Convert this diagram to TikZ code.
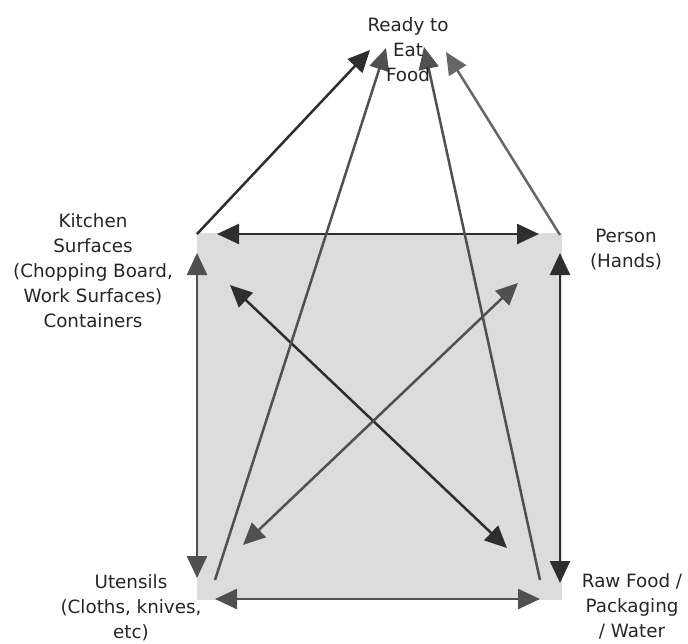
\documentclass[tikz,border=0pt]{standalone}
\usepackage{fontspec}
\setmainfont{DejaVu Sans}
\usetikzlibrary{arrows.meta}
\definecolor{txt}{HTML}{262626}
\definecolor{sq}{HTML}{DCDCDC}
\definecolor{dk}{HTML}{2E2E2E}
\definecolor{md}{HTML}{505050}
\definecolor{lt}{HTML}{666666}
\begin{document}
\begin{tikzpicture}[x=1pt,y=-1pt,
  lbl/.style={align=center, font=\fontsize{18.3}{25}\selectfont, text=txt, inner sep=0pt},
  tip/.style={-{Triangle[length=22pt,width=20pt]}},
  dtip/.style={{Triangle[length=22pt,width=20pt]}-{Triangle[length=22pt,width=20pt]}},
  con/.style={line width=2.5pt}
]
\useasboundingbox (0,0) rectangle (688,643);
\fill[white] (0,0) rectangle (688,643);
% grey square
\fill[sq] (197,233) rectangle (562,600);

% coordinates
\coordinate (tl) at (217,234);
\coordinate (tr) at (539,234);
\coordinate (bl) at (215,599);
\coordinate (br) at (540,599);
\coordinate (lt1) at (197,253);
\coordinate (lb1) at (197,578);
\coordinate (rt1) at (560,253);
\coordinate (rb1) at (560,583);
\coordinate (d1a) at (230,285);
\coordinate (d1b) at (507,548);
\coordinate (d2a) at (518,283);
\coordinate (d2b) at (243,545);
\coordinate (ks) at (197,234);
\coordinate (kt) at (370,50);
\coordinate (us) at (215,580);
\coordinate (ut) at (386,48);
\coordinate (rs) at (540,580);
\coordinate (rt) at (424,47);
\coordinate (ps) at (560,235);
\coordinate (pt) at (446,52);

% square arrows
\draw[con,dtip,dk,fill=dk] (tl) -- (tr);
\draw[con,dtip,md,fill=md] (bl) -- (br);
\draw[con,dtip,md,fill=md] (lt1) -- (lb1);
\draw[con,dtip,dk,fill=dk] (rt1) -- (rb1);
\draw[con,dtip,dk,fill=dk] (d1a) -- (d1b);
\draw[con,dtip,md,fill=md] (d2a) -- (d2b);

% arrows to food
\draw[con,tip,dk,fill=dk] (ks) -- (kt);
\draw[con,tip,md,fill=md] (us) -- (ut);
\draw[con,tip,md,fill=md] (rs) -- (rt);
\draw[con,tip,lt,fill=lt] (ps) -- (pt);

% labels
\node[lbl] (food) at (408,50) {Ready to\\Eat\\Food};
\node[lbl] (kitchen) at (93,271) {Kitchen\\Surfaces\\(Chopping Board,\\Work Surfaces)\\Containers};
\node[lbl] (person) at (626,250) {Person\\(Hands)};
\node[lbl] (utensils) at (131,608) {Utensils\\(Cloths, knives,\\etc)};
\node[lbl] (raw) at (632,606) {Raw Food /\\Packaging\\/ Water};
\end{tikzpicture}
\end{document}
